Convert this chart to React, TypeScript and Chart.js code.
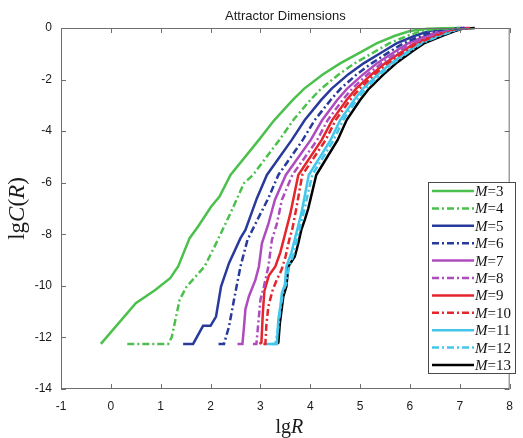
import React, { useEffect, useRef } from "react";
import { Chart, registerables } from "chart.js";
Chart.register(...registerables);

const chartTitle = "Attractor Dimensions";
const xTickValues = [-1, 0, 1, 2, 3, 4, 5, 6, 7, 8];
const yTickValues = [0, -2, -4, -6, -8, -10, -12, -14];
const seriesNames = ["3", "4", "5", "6", "7", "8", "9", "10", "11", "12", "13"];

const M3 = [[-0.2,-12.25],[0.5,-10.67],[0.89,-10.16],[1.19,-9.7],[1.35,-9.25],[1.58,-8.15],[1.75,-7.7],[2.01,-6.93],[2.18,-6.54],[2.4,-5.7],[2.97,-4.34],[3.28,-3.57],[3.65,-2.79],[3.88,-2.35],[4.25,-1.8],[4.6,-1.37],[5.05,-0.9],[5.33,-0.6],[5.7,-0.3],[6.0,-0.12],[6.35,-0.03],[6.9,0]];
const M4 = [[0.33,-12.25],[1.15,-12.25],[1.22,-12.0],[1.38,-10.54],[1.52,-10.03],[1.88,-9.25],[2.08,-8.48],[2.4,-7.18],[2.67,-6.02],[2.85,-5.7],[3.38,-4.34],[3.66,-3.57],[4.0,-2.79],[4.22,-2.35],[4.57,-1.8],[4.89,-1.37],[5.31,-0.9],[5.58,-0.6],[5.95,-0.3],[6.23,-0.12],[6.53,-0.03],[7.0,0]];
const M5 = [[1.45,-12.25],[1.65,-12.25],[1.85,-11.55],[2.0,-11.55],[2.11,-11.19],[2.21,-10.03],[2.37,-9.12],[2.6,-8.15],[2.7,-7.83],[2.93,-6.6],[3.13,-5.7],[3.63,-4.34],[3.89,-3.57],[4.22,-2.79],[4.43,-2.35],[4.76,-1.8],[5.07,-1.37],[5.47,-0.9],[5.73,-0.6],[6.1,-0.3],[6.38,-0.12],[6.64,-0.03],[7.05,0]];
const M6 = [[2.16,-12.25],[2.27,-12.25],[2.37,-11.58],[2.47,-10.54],[2.6,-9.25],[2.74,-8.22],[2.95,-7.4],[3.16,-6.6],[3.36,-5.7],[3.85,-4.34],[4.09,-3.57],[4.41,-2.79],[4.61,-2.35],[4.93,-1.8],[5.23,-1.37],[5.61,-0.9],[5.86,-0.6],[6.23,-0.3],[6.5,-0.12],[6.74,-0.03],[7.1,0]];
const M7 = [[2.54,-12.25],[2.64,-12.25],[2.67,-11.6],[2.7,-10.9],[2.77,-10.4],[2.9,-9.77],[2.97,-9.25],[3.03,-8.35],[3.16,-7.6],[3.29,-6.67],[3.51,-5.7],[4.01,-4.34],[4.24,-3.57],[4.54,-2.79],[4.74,-2.35],[5.06,-1.8],[5.34,-1.37],[5.71,-0.9],[5.96,-0.6],[6.33,-0.3],[6.59,-0.12],[6.81,-0.03],[7.1,0]];
const M8 = [[2.85,-12.25],[2.92,-12.25],[2.97,-11.19],[3.0,-10.54],[3.07,-10.03],[3.16,-9.25],[3.23,-8.22],[3.33,-7.6],[3.43,-6.67],[3.64,-5.7],[4.14,-4.34],[4.35,-3.57],[4.65,-2.79],[4.84,-2.35],[5.15,-1.8],[5.43,-1.37],[5.79,-0.9],[6.03,-0.6],[6.4,-0.3],[6.67,-0.12],[6.87,-0.03],[7.15,0]];
const M9 = [[2.98,-12.25],[3.02,-12.2],[3.05,-11.0],[3.08,-10.2],[3.17,-9.6],[3.3,-9.25],[3.4,-8.7],[3.5,-7.95],[3.6,-7.2],[3.76,-5.7],[4.23,-4.34],[4.44,-3.57],[4.73,-2.79],[4.92,-2.35],[5.23,-1.8],[5.5,-1.37],[5.85,-0.9],[6.09,-0.6],[6.46,-0.3],[6.72,-0.12],[6.91,-0.03],[7.15,0]];
const M10 = [[3.06,-12.25],[3.1,-12.25],[3.12,-11.5],[3.16,-10.8],[3.24,-10.2],[3.32,-9.8],[3.42,-9.4],[3.5,-8.9],[3.58,-8.2],[3.64,-7.8],[3.72,-7.0],[3.84,-5.7],[4.31,-4.34],[4.51,-3.57],[4.8,-2.79],[4.99,-2.35],[5.29,-1.8],[5.55,-1.37],[5.9,-0.9],[6.14,-0.6],[6.51,-0.3],[6.77,-0.12],[6.95,-0.03],[7.2,0]];
const M11 = [[3.1,-12.25],[3.33,-12.25],[3.36,-11.3],[3.4,-10.8],[3.43,-10.28],[3.49,-9.96],[3.52,-9.25],[3.62,-8.73],[3.72,-7.96],[3.82,-7.2],[3.97,-5.7],[4.41,-4.34],[4.6,-3.57],[4.88,-2.79],[5.06,-2.35],[5.36,-1.8],[5.62,-1.37],[5.96,-0.9],[6.19,-0.6],[6.56,-0.3],[6.82,-0.12],[6.99,-0.03],[7.2,0]];
const M12 = [[3.22,-12.25],[3.3,-12.25],[3.36,-11.6],[3.4,-10.9],[3.46,-10.2],[3.52,-9.9],[3.57,-9.3],[3.66,-8.8],[3.76,-8.0],[3.85,-7.3],[4.04,-5.7],[4.47,-4.34],[4.66,-3.57],[4.93,-2.79],[5.12,-2.35],[5.41,-1.8],[5.66,-1.37],[6.0,-0.9],[6.23,-0.6],[6.6,-0.3],[6.86,-0.12],[7.02,-0.03],[7.25,0]];
const M13 = [[3.33,-12.25],[3.36,-12.2],[3.39,-11.45],[3.46,-10.41],[3.52,-10.03],[3.56,-9.25],[3.69,-8.86],[3.76,-8.35],[3.82,-7.83],[3.89,-7.44],[3.96,-7.0],[4.12,-5.7],[4.55,-4.34],[4.73,-3.57],[5.0,-2.79],[5.18,-2.35],[5.47,-1.8],[5.72,-1.37],[6.05,-0.9],[6.28,-0.6],[6.65,-0.3],[6.9,-0.12],[7.05,-0.03],[7.3,0]];
const seriesData = [M3, M4, M5, M6, M7, M8, M9, M10, M11, M12, M13];

const GREEN = "#4cc04c";
const BLUE = "#283a9c";
const PURPLE = "#ae4cbe";
const RED = "#e3262c";
const CYAN = "#44c6ea";
const BLACK = "#000000";
const seriesColors = [GREEN, GREEN, BLUE, BLUE, PURPLE, PURPLE, RED, RED, CYAN, CYAN, BLACK];
const DASHDOT = [7, 3, 2, 3];
const seriesDash = [[], DASHDOT, [], DASHDOT, [], DASHDOT, [], DASHDOT, [], DASHDOT, []];

const SERIF = '"Liberation Serif", "DejaVu Serif", serif';
const SANS = '"Liberation Sans", Arial, sans-serif';

function drawRich(ctx, parts, x, y, size) {
  let cx = x;
  for (const [txt, italic] of parts) {
    ctx.font = (italic ? "italic " : "") + size + "px " + SERIF;
    ctx.fillText(txt, cx, y);
    cx += ctx.measureText(txt).width;
  }
}
function richWidth(ctx, parts, size) {
  let w = 0;
  for (const [txt, italic] of parts) {
    ctx.font = (italic ? "italic " : "") + size + "px " + SERIF;
    w += ctx.measureText(txt).width;
  }
  return w;
}

const decorPlugin = {
  id: "decor",
  afterDatasetsDraw(chart) {
    const { ctx, chartArea: a, scales } = chart;
    const xs = scales.x, ys = scales.y;
    ctx.save();
    ctx.strokeStyle = "#6e6e6e";
    ctx.lineWidth = 1;
    ctx.setLineDash([]);
    ctx.strokeRect(a.left + 0.5, a.top + 0.5, a.right - a.left - 1, a.bottom - a.top - 1);
    ctx.beginPath();
    for (const v of xTickValues) {
      const px = Math.round(xs.getPixelForValue(v)) + 0.5;
      ctx.moveTo(px, a.bottom); ctx.lineTo(px, a.bottom - 5);
      ctx.moveTo(px, a.top); ctx.lineTo(px, a.top + 5);
    }
    for (const v of yTickValues) {
      const py = Math.round(ys.getPixelForValue(v)) + 0.5;
      ctx.moveTo(a.left, py); ctx.lineTo(a.left + 5, py);
      ctx.moveTo(a.right, py); ctx.lineTo(a.right - 5, py);
    }
    ctx.stroke();

    // legend
    const lx = a.left + 367, ly = a.top + 154, lw = 87, lh = 191;
    ctx.fillStyle = "#ffffff";
    ctx.fillRect(lx, ly, lw, lh);
    ctx.strokeStyle = "#4a4a4a";
    ctx.strokeRect(lx + 0.5, ly + 0.5, lw, lh);
    ctx.textBaseline = "middle";
    ctx.textAlign = "left";
    for (let i = 0; i < seriesNames.length; i++) {
      const ry = ly + 9 + i * 17.4;
      ctx.strokeStyle = seriesColors[i];
      ctx.lineWidth = 2.5;
      ctx.setLineDash(seriesDash[i]);
      ctx.beginPath();
      ctx.moveTo(lx + 4, ry);
      ctx.lineTo(lx + 46, ry);
      ctx.stroke();
      ctx.setLineDash([]);
      ctx.fillStyle = "#111";
      drawRich(ctx, [["M", true], ["=" + seriesNames[i], false]], lx + 47, ry + 1, 15);
    }

    // title
    ctx.fillStyle = "#1a1a1a";
    ctx.font = "13px " + SANS;
    ctx.textAlign = "center";
    ctx.fillText(chartTitle, (a.left + a.right) / 2, 16);

    // x axis title
    ctx.textAlign = "left";
    ctx.textBaseline = "alphabetic";
    const xParts = [["lg", false], ["R", true]];
    const xw = richWidth(ctx, xParts, 20);
    drawRich(ctx, xParts, (a.left + a.right) / 2 + 4 - xw / 2, 433, 20);

    // y axis title
    const yParts = [["lg", false], ["C", true], ["(", false], ["R", true], [")", false]];
    const yw = richWidth(ctx, yParts, 23);
    ctx.translate(24, (a.top + a.bottom) / 2);
    ctx.rotate(-Math.PI / 2);
    drawRich(ctx, yParts, -yw / 2, 0, 23);
    ctx.restore();
  },
};

export default function App() {
  const ref = useRef(null);
  useEffect(() => {
    document.body.style.margin = "0";
    const chart = new Chart(ref.current, {
      type: "line",
      data: {
        datasets: seriesData.map((d, i) => ({
          label: "M=" + seriesNames[i],
          data: d.map(([x, y]) => ({ x, y })),
          borderColor: seriesColors[i],
          borderDash: seriesDash[i],
          borderWidth: 2.5,
          pointRadius: 0,
          tension: 0,
          fill: false,
          clip: false,
        })),
      },
      options: {
        animation: false,
        responsive: false,
        devicePixelRatio: 1,
        layout: { padding: { top: 28, right: 6, left: 0, bottom: 0 } },
        plugins: { legend: { display: false }, title: { display: false }, tooltip: { enabled: false } },
        scales: {
          x: {
            type: "linear",
            min: -1,
            max: 8,
            grid: { display: false, drawTicks: false },
            border: { display: false },
            afterBuildTicks: (s) => { s.ticks = xTickValues.map((v) => ({ value: v })); },
            afterFit: (s) => { s.height = 49; },
            ticks: { padding: 10, color: "#1a1a1a", font: { family: SANS, size: 12 }, maxRotation: 0 },
          },
          y: {
            type: "linear",
            min: -14,
            max: 0,
            grid: { display: false, drawTicks: false },
            border: { display: false },
            afterBuildTicks: (s) => { s.ticks = yTickValues.map((v) => ({ value: v })); },
            afterFit: (s) => { s.width = 61; },
            ticks: { padding: 9, color: "#1a1a1a", font: { family: SANS, size: 12 } },
          },
        },
      },
      plugins: [decorPlugin],
    });
    return () => chart.destroy();
  }, []);
  return (
    <div style={{ width: 523, height: 438 }}>
      <canvas ref={ref} width={523} height={438} />
    </div>
  );
}
